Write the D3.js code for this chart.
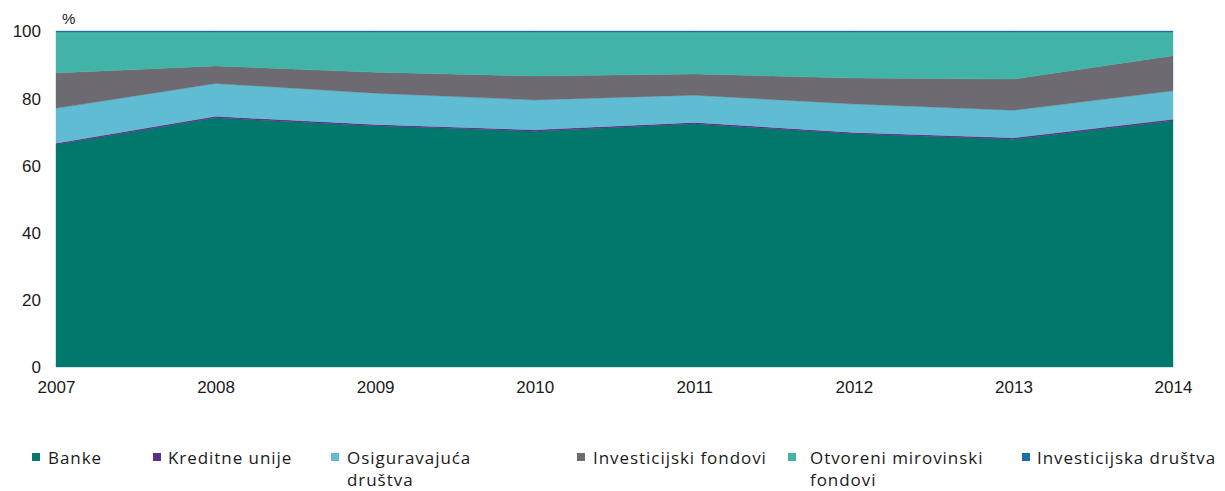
<!DOCTYPE html>
<html>
<head>
<meta charset="utf-8">
<script src="https://cdn.jsdelivr.net/npm/d3@7"></script>
<style>
  body { margin: 0; background: #fff; }
  svg { display: block; }
</style>
</head>
<body>
<svg id="chart" width="1225" height="491"></svg>
<script>
// data, shares in %
var years = [2007, 2008, 2009, 2010, 2011, 2012, 2013, 2014];
var banke = [66.2, 74.2, 71.8, 70.2, 72.4, 69.4, 67.8, 73.3];
var kreditne = [0.4, 0.4, 0.4, 0.4, 0.4, 0.4, 0.4, 0.4];
var osiguravajuca = [10.4, 9.8, 9.3, 8.9, 8.1, 8.5, 8.2, 8.5];
var invFondovi = [10.5, 5.2, 6.2, 7.1, 6.3, 7.7, 9.3, 10.4];
var mirovinski = [12.2, 10.1, 12.0, 13.1, 12.5, 13.7, 14.0, 7.1];
var invDrustva = [0.3, 0.3, 0.3, 0.3, 0.3, 0.3, 0.3, 0.3];
var yTicks = [0, 20, 40, 60, 80, 100];

var series = [
  { name: "Banke", values: banke, color: "#00786c" },
  { name: "Kreditne unije", values: kreditne, color: "#5e2d87" },
  { name: "Osiguravajuća\ndruštva", values: osiguravajuca, color: "#5fbcd3" },
  { name: "Investicijski fondovi", values: invFondovi, color: "#6d6a71" },
  { name: "Otvoreni mirovinski\nfondovi", values: mirovinski, color: "#42b4a7" },
  { name: "Investicijska društva", values: invDrustva, color: "#1c6ea6" }
];

var rows = years.map(function(y, i) {
  var r = { year: y };
  series.forEach(function(s) { r[s.name] = s.values[i]; });
  return r;
});

var svg = d3.select("#chart");

var x = d3.scaleLinear().domain([2007, 2014]).range([56, 1173]);
var y = d3.scaleLinear().domain([0, 100]).range([367, 31]);

var stack = d3.stack().keys(series.map(function(s) { return s.name; }));
var layers = stack(rows);

var area = d3.area()
  .x(function(d) { return x(d.data.year); })
  .y0(function(d) { return y(d[0]); })
  .y1(function(d) { return y(d[1]); });

svg.append("g")
  .selectAll("path")
  .data(layers)
  .enter()
  .append("path")
  .attr("fill", function(d, i) { return series[i].color; })
  .attr("stroke", function(d, i) { return series[i].color; })
  .attr("stroke-width", 0.4)
  .attr("d", area);

// axes without lines or ticks
var yAxis = svg.append("g")
  .attr("transform", "translate(41,0)")
  .call(d3.axisLeft(y).tickValues(yTicks).tickSize(0).tickPadding(0));
var xAxis = svg.append("g")
  .attr("transform", "translate(0,381)")
  .call(d3.axisBottom(x).tickValues(years).tickFormat(d3.format("d")).tickSize(0).tickPadding(0));

[yAxis, xAxis].forEach(function(a) {
  a.select(".domain").remove();
  a.selectAll("text")
    .attr("fill", "#1a1a1a")
    .style("font-family", "'Liberation Sans', Arial, sans-serif")
    .style("font-size", "17px");
});
xAxis.selectAll("text").attr("dy", "0.71em");
yAxis.selectAll("text").attr("dy", "0.35em");

svg.append("text")
  .attr("x", 62)
  .attr("y", 24)
  .attr("fill", "#1a1a1a")
  .style("font-family", "'Liberation Sans', Arial, sans-serif")
  .style("font-size", "15px")
  .text("%");

// legend: square and text positions per item
var legendX = [32, 153, 331, 577, 788, 1022];
var legendTextX = [48, 168, 347, 593, 810, 1037];
var legend = svg.append("g")
  .style("font-family", "'Open Sans', sans-serif")
  .style("font-size", "17px")
  .style("letter-spacing", "0.95px")
  .attr("fill", "#1a1a1a");

series.forEach(function(s, i) {
  legend.append("rect")
    .attr("x", legendX[i])
    .attr("y", 453)
    .attr("width", 8)
    .attr("height", 8)
    .attr("fill", s.color);
  var t = legend.append("text").attr("x", legendTextX[i]).attr("y", 464);
  s.name.split("\n").forEach(function(line, j) {
    t.append("tspan").attr("x", legendTextX[i]).attr("dy", j === 0 ? 0 : 22).text(line);
  });
});
</script>
</body>
</html>
